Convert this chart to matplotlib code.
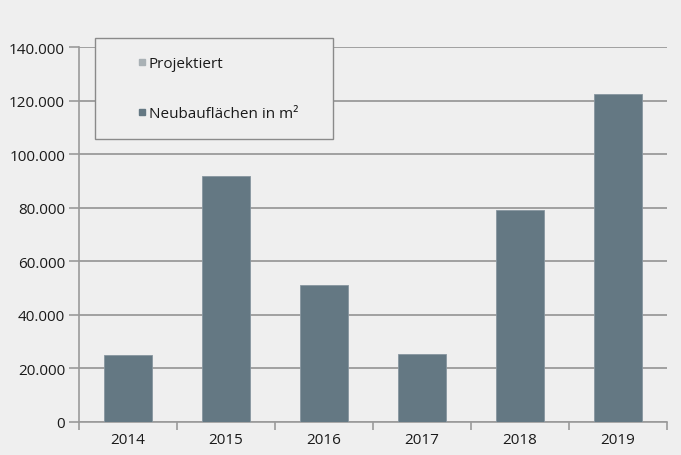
import matplotlib
matplotlib.use("Agg")
import matplotlib.pyplot as plt
from matplotlib.lines import Line2D
from matplotlib.ticker import FuncFormatter, FixedLocator

plt.rcParams['font.family'] = ['Open Sans', 'DejaVu Sans']

years = ["2014", "2015", "2016", "2017", "2018", "2019"]
neubau = [25000, 92000, 51000, 25500, 79000, 122500]
y_ticks = [0, 20000, 40000, 60000, 80000, 100000, 120000, 140000]
legend_labels = ["Projektiert", "Neubauflächen in m²"]

bg = "#efefef"
bar_color = "#647883"
proj_color = "#a9b1b5"
grid_color = "#9a9a9a"
text_color = "#1a1a1a"

fig = plt.figure(figsize=(6.81, 4.56), dpi=100, facecolor=bg)
ax = fig.add_axes([79/681, 33/456, (667-79)/681, (423-48)/456])
ax.set_facecolor(bg)

x = list(range(len(years)))
ax.bar(x, neubau, width=0.49, color=bar_color, edgecolor="#8796a0", linewidth=0.6, zorder=3)

ax.set_ylim(0, 140000)
ax.set_xlim(-0.5, len(years) - 0.5)
ax.yaxis.set_major_locator(FixedLocator(y_ticks))
ax.yaxis.set_major_formatter(FuncFormatter(lambda v, p: f"{int(v):,}".replace(",", ".")))
ax.grid(axis="y", color=grid_color, linewidth=1.3, zorder=1)
ax.set_axisbelow(True)

ax.set_xticks(x)
ax.set_xticklabels(years)
ax.set_xticks([i - 0.5 for i in range(len(years) + 1)], minor=True)
ax.tick_params(axis="x", which="major", length=0, pad=7, labelsize=11, labelcolor=text_color)
ax.tick_params(axis="x", which="minor", length=6, color=grid_color, width=1.2)
ax.tick_params(axis="y", length=7, color=grid_color, width=1.2, pad=3, labelsize=11, labelcolor=text_color)

for s in ["top", "right"]:
    ax.spines[s].set_visible(False)
for s in ["left", "bottom"]:
    ax.spines[s].set_color(grid_color)
    ax.spines[s].set_linewidth(1.2)

handles = [
    Line2D([], [], marker="s", linestyle="none", markersize=4.5, color=proj_color),
    Line2D([], [], marker="s", linestyle="none", markersize=4.5, color=bar_color),
]
leg = fig.legend(handles, legend_labels, loc="upper left",
                 bbox_to_anchor=(95/681, 1 - 39/456, (333-95)/681, 0.0),
                 mode="expand", frameon=True, fancybox=False, shadow=False,
                 facecolor=bg, edgecolor="#8a8a8a", framealpha=1,
                 fontsize=11, labelspacing=2.3, borderpad=1.17,
                 handlelength=3.8, handletextpad=-1.45, borderaxespad=0)
leg.get_frame().set_linewidth(1.0)
for t in leg.get_texts():
    t.set_color(text_color)

fig.savefig("out.png", dpi=100, facecolor=bg)
